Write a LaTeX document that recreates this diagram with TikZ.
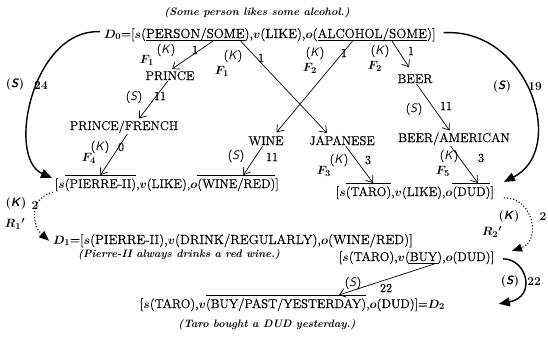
\documentclass[tikz,border=0pt]{standalone}
\usepackage{fontspec}
\setmainfont{Latin Modern Roman}[UprightFeatures={FakeBold=0.5}]
\usetikzlibrary{arrows.meta,calc}
% labels for the arrows
\newcommand{\labK}{(\textsf{\slshape K})}
\newcommand{\labS}{(\textsf{\slshape S})}
\newcommand{\labKb}{\textbf{(}\textsf{\bfseries\slshape K}\textbf{)}}
\newcommand{\labSb}{\textbf{(}\textsf{\bfseries\slshape S}\textbf{)}}
\tikzset{
  every node/.style={font=\fontsize{12.7}{15}\selectfont\boldmath},
  wide/.style={font=\fontsize{13.2}{15}\selectfont\boldmath},
  seg/.style={inner sep=0pt, outer sep=0pt, anchor=base west},
  word/.style={inner sep=0pt, outer sep=0pt, anchor=base},
  lab/.style={inner sep=0pt, font=\fontsize{12.3}{14}\selectfont\boldmath},
  blab/.style={inner sep=0pt, font=\fontsize{12}{14}\selectfont\bfseries},
  capt/.style={inner sep=0pt, font=\fontsize{10.8}{13}\selectfont\bfseries\itshape},
  arr/.style={-{Straight Barb[length=6pt,width=9pt]}, line width=0.7pt},
  bigarr/.style={-{Triangle[length=11pt,width=9pt]}, line width=1.4pt},
  dotarr/.style={-{Triangle[length=10pt,width=8pt]}, line width=1.1pt, dotted},
  rule/.style={line width=0.7pt},
}
\begin{document}
\begin{tikzpicture}[x=1pt,y=-1pt]
\useasboundingbox (0,0) rectangle (548,343);

% ---- top sentence ----
\node[capt] (c0) at (257,13) {(Some person likes some alcohol.)};
\node[seg,wide] (d0a) at (104,38) {$D_0$=[$s$(};
\node[seg,wide] (d0b) at (d0a.base east) {PERSON/SOME};
\node[seg,wide] (d0c) at (d0b.base east) {),$v$(LIKE),$o$(};
\node[seg,wide] (d0d) at (d0c.base east) {ALCOHOL/SOME};
\node[seg,wide] (d0e) at (d0d.base east) {)]};
\draw[rule] ($(d0b.base west)+(0,2.5)$) -- ($(d0b.base east)+(0,2.5)$);
\draw[rule] ($(d0d.base west)+(0,2.5)$) -- ($(d0d.base east)+(0,2.5)$);

% ---- intermediate words ----
\node[word] (prince) at (170,80) {PRINCE};
\node[word] (pf) at (124,130) {PRINCE/FRENCH};
\node[word] (wine) at (266,145) {WINE};
\node[word] (jap) at (342,145) {JAPANESE};
\node[word] (beer) at (415,83) {BEER};
\node[word] (ba) at (454,142) {BEER/AMERICAN};

% ---- second row ----
\node[seg] (l2a) at (55,188) {[$s$};
\node[seg] (l2b) at (l2a.base east) {(PIERRE-II)};
\node[seg] (l2c) at (l2b.base east) {,$v$(LIKE),$o$};
\node[seg] (l2d) at (l2c.base east) {(WINE/RED)};
\node[seg] (l2e) at (l2d.base east) {]};
\draw[rule] ($(l2b.base west)+(0,-13)$) -- ($(l2b.base east)+(0,-13)$);
\draw[rule] ($(l2d.base west)+(0,-13)$) -- ($(l2d.base east)+(0,-13)$);

\node[seg] (l3a) at (336,196) {[$s$};
\node[seg] (l3b) at (l3a.base east) {(TARO)};
\node[seg] (l3c) at (l3b.base east) {,$v$(LIKE),$o$};
\node[seg] (l3d) at (l3c.base east) {(DUD)};
\node[seg] (l3e) at (l3d.base east) {]};
\draw[rule] ($(l3b.base west)+(0,-13)$) -- ($(l3b.base east)+(0,-13)$);
\draw[rule] ($(l3d.base west)+(0,-13)$) -- ($(l3d.base east)+(0,-13)$);

% ---- lower rows ----
\node[seg,wide] (d1) at (53,244) {$D_1$=[$s$(PIERRE-II),$v$(DRINK/REGULARLY),$o$(WINE/RED)]};
\node[capt] (c1) at (179,255) {(Pierre-II always drinks a red wine.)};

\node[seg] (l4a) at (339,261) {[$s$(TARO),$v$(};
\node[seg] (l4b) at (l4a.base east) {BUY};
\node[seg] (l4c) at (l4b.base east) {),$o$(DUD)]};
\draw[rule] ($(l4b.base west)+(-1,2.5)$) -- ($(l4b.base east)+(1,2.5)$);

\node[seg] (l5a) at (140,308) {[$s$(TARO),$v$};
\node[seg] (l5b) at (l5a.base east) {(BUY/PAST/YESTERDAY)};
\node[seg] (l5c) at (l5b.base east) {,$o$(DUD)]=$D_2$};
\draw[rule] ($(l5b.base west)+(0,-13)$) -- ($(l5b.base east)+(0,-13)$);
\node[capt] (c2) at (267,325) {(Taro bought a DUD yesterday.)};

% ---- straight derivation arrows ----
\draw[arr] ($(d0b.base west)!0.68!(d0b.base east)+(0,3)$) -- ($(prince.north)+(2,-2)$);
\draw[arr] ($(d0b.base west)!0.96!(d0b.base east)+(0,3)$) -- ($(jap.north west)!0.27!(jap.north east)+(0,-3)$);
\draw[arr] ($(d0d.base west)!0.32!(d0d.base east)+(0,3)$) -- ($(wine.north west)!0.8!(wine.north east)+(0,-4)$);
\draw[arr] ($(d0d.base west)!0.68!(d0d.base east)+(0,3)$) -- ($(beer.north west)!0.33!(beer.north east)+(0,-7)$);
\draw[arr] ($(prince.south west)!0.45!(prince.south east)+(0,1)$) -- ($(pf.north west)!0.64!(pf.north east)+(0,-2)$);
\draw[arr] ($(pf.south west)!0.53!(pf.south east)+(0,1)$) -- ($(l2b.base west)!0.5!(l2b.base east)+(0,-13)$);
\draw[arr] ($(wine.south west)!0.4!(wine.south east)+(0,1)$) -- ($(l2d.base west)!0.59!(l2d.base east)+(0,-13)$);
\draw[arr] ($(jap.south west)!0.56!(jap.south east)+(0,1)$) -- ($(l3b.base west)!0.6!(l3b.base east)+(0,-13)$);
\draw[arr] ($(beer.south west)!0.55!(beer.south east)+(0,1)$) -- ($(ba.north west)!0.46!(ba.north east)+(0,-2)$);
\draw[arr] ($(ba.south west)!0.47!(ba.south east)+(0,1)$) -- ($(l3d.base west)!0.67!(l3d.base east)+(0,-13)$);
\draw[arr] ($(l4b.base west)!0.89!(l4b.base east)+(0,3)$) -- ($(l5b.base west)!0.83!(l5b.base east)+(0,-13)$);

% ---- curved arrows ----
\draw[bigarr] ($(d0a.west)+(-4,-3)$) .. controls +(-68,-3) and +(-46,-20) .. ($(l2a.west)+(-3,-7)$);
\draw[bigarr] ($(d0e.east)+(8,-2)$) .. controls +(85,-5) and +(64,-32) .. ($(l3e.east)+(10,-11)$);
\draw[dotarr] ($(l2a.south west)+(-2,1)$) .. controls +(-23,5) and +(-18,-16) .. ($(d1.west)+(-4,0)$);
\draw[dotarr] ($(l3e.east)+(10,5)$) .. controls +(29,-1) and +(30,-10) .. ($(l4c.east)+(18,-7)$);
\draw[bigarr] ($(l4c.east)+(9,1)$) .. controls +(24,0) and +(38,-7) .. ($(l5c.east)+(54,-1)$);

% ---- arrow labels ----
\node[lab] at (147,60) {$F_1$};
\node[lab] at (166,50) {\labK};
\node[lab] at (195,50) {1};
\node[lab] at (222,71) {$F_1$};
\node[lab] at (233,56) {\labK};
\node[lab] at (261,58) {1};
\node[lab] at (310,68) {$F_2$};
\node[lab] at (315,53) {\labK};
\node[lab] at (344,53) {1};
\node[lab] at (375,66) {$F_2$};
\node[lab] at (380,51) {\labK};
\node[lab] at (411,51) {1};
\node[lab] at (134,97) {\labS};
\node[lab] at (160,96) {11};
\node[lab] at (89,158) {$F_4$};
\node[lab] at (100,147) {\labK};
\node[lab] at (121,147) {0};
\node[lab] at (236,156) {\labS};
\node[lab] at (272,157) {11};
\node[lab] at (324,171) {$F_3$};
\node[lab] at (339,160) {\labK};
\node[lab] at (368,160) {3};
\node[lab] at (414,109) {\labS};
\node[lab] at (446,106) {11};
\node[lab] at (443,171) {$F_5$};
\node[lab] at (449,156) {\labK};
\node[lab] at (481,158) {3};
\node[lab] at (353,283) {\labS};
\node[lab] at (386,288) {22};

\node[blab] at (15,85) {\labSb};
\node[blab] at (41,86) {24};
\node[blab] at (502,87) {\labSb};
\node[blab] at (535,87) {19};
\node[blab] at (16,204) {\labKb};
\node[blab] at (35,206) {2};
\node[lab] at (15,224) {$R_1{}'$};
\node[blab] at (509,217) {\labKb};
\node[blab] at (543,217) {2};
\node[lab] at (492,232) {$R_2{}'$};
\node[blab] at (510,281) {\labSb};
\node[blab] at (534,282) {22};
\end{tikzpicture}
\end{document}
